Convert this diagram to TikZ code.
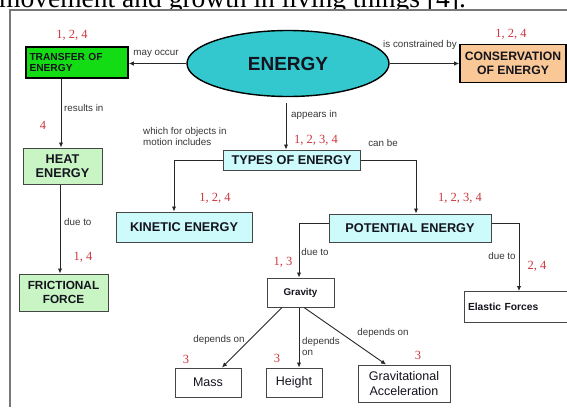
\documentclass[tikz,border=0pt]{standalone}
\usepackage{fontspec}
\setmainfont{Liberation Serif}
\setsansfont{Liberation Sans}
\usetikzlibrary{arrows.meta,shapes.geometric}
\definecolor{ecyan}{RGB}{50,200,205}
\definecolor{tgreen}{RGB}{20,220,20}
\definecolor{corange}{RGB}{250,200,150}
\definecolor{lgreen}{RGB}{200,245,195}
\definecolor{lcyan}{RGB}{205,250,250}
\definecolor{numred}{RGB}{205,55,65}
\definecolor{lblgray}{RGB}{55,55,55}
\definecolor{linegray}{RGB}{40,40,40}
\definecolor{boxgray}{RGB}{70,70,70}
\definecolor{framegray}{RGB}{120,120,120}
\definecolor{darktext}{RGB}{20,20,30}
\tikzset{
  lbl/.style={font=\sffamily\fontsize{9.8}{11}\selectfont, text=lblgray, inner sep=0},
  num/.style={font=\fontsize{12.5}{13}\selectfont, text=numred, inner sep=0},
  conn/.style={draw=linegray, line width=0.9pt},
  arr/.style={conn, -{Latex[length=5pt,width=4.5pt]}},
  cbox/.style={draw=boxgray, line width=1pt, rectangle, inner sep=0, align=center, text=darktext,
    font=\sffamily\bfseries\fontsize{12.7}{14.5}\selectfont},
  wbox/.style={draw=boxgray, line width=1pt, rectangle, inner sep=0, align=center, fill=white,
    font=\sffamily\fontsize{12.5}{14.5}\selectfont, text=darktext},
}
\begin{document}
\begin{tikzpicture}[x=1pt,y=-1pt]
\useasboundingbox (0,0) rectangle (567,407);
\begin{scope}
\clip (0,0) rectangle (567,407);
\node[anchor=base west, inner sep=0, font=\fontsize{27.5}{28}\selectfont] (toptext) at (-1,7) {movement and growth in living things [4].};
\fill[white] (10,10) rectangle (568,408);
\end{scope}
\draw[framegray, line width=1.2pt] (10,407) -- (10,10) -- (567,10);

% main nodes
\node[ellipse, draw=black, line width=1.4pt, fill=ecyan, minimum width=202, minimum height=66,
  inner sep=0, font=\sffamily\bfseries\fontsize{19}{20}\selectfont, text=darktext] (energy) at (288,63.5) {ENERGY};
\node[cbox, fill=tgreen, draw=black, line width=1.6pt, minimum width=102, minimum height=31,
  text width=95, align=left, font=\sffamily\bfseries\fontsize{10.2}{11.5}\selectfont] (transfer) at (77,62.5) {TRANSFER OF\\ENERGY};
\node[cbox, fill=corange, draw=black, line width=1.6pt, minimum width=106, minimum height=38,
  font=\sffamily\bfseries\fontsize{12.2}{13.8}\selectfont] (conserv) at (513,63.5) {CONSERVATION\\OF ENERGY};
\node[cbox, fill=lgreen, minimum width=79, minimum height=36] (heat) at (62.5,166) {HEAT\\ENERGY};
\node[cbox, fill=lgreen, minimum width=89, minimum height=37, font=\sffamily\bfseries\fontsize{11.8}{13.8}\selectfont] (fric) at (63.5,292.5) {FRICTIONAL\\FORCE};
\node[cbox, fill=lcyan, minimum width=137, minimum height=20] (types) at (291.5,160) {TYPES OF ENERGY};
\node[cbox, fill=lcyan, minimum width=136, minimum height=30] (kinetic) at (184,227) {KINETIC ENERGY};
\node[cbox, fill=lcyan, minimum width=162, minimum height=28] (potential) at (410,228) {POTENTIAL ENERGY};
\node[wbox, minimum width=67, minimum height=29, font=\sffamily\bfseries\fontsize{9.8}{11}\selectfont] (gravity) at (300.5,292.5) {Gravity};
\node[wbox, minimum width=103, minimum height=31, text width=95, align=left, font=\sffamily\bfseries\fontsize{10.3}{12}\selectfont] (elastic) at (515.5,307) {Elastic Forces};
\node[wbox, minimum width=66, minimum height=29] (mass) at (208,382.5) {Mass};
\node[wbox, minimum width=56, minimum height=29] (height) at (294,382.5) {Height};
\node[wbox, minimum width=92, minimum height=37] (gacc) at (404,383.5) {Gravitational\\Acceleration};

% connectors
\draw[arr] (energy.west) -- (energy.west -| transfer.east);
\draw[arr] (energy.east) -- (energy.east -| conserv.west);
\draw[arr] ([xshift=-16pt]transfer.south) -- ([xshift=-16pt]transfer.south |- heat.north);
\draw[arr] ([xshift=-2.5pt]heat.south) -- ([xshift=-2.5pt]heat.south |- fric.north);
\coordinate (apstart) at (286,103);
\draw[arr] (apstart) -- (apstart |- types.north);
\draw[arr] (types.west) -| ([xshift=-10pt]kinetic.north);
\draw[arr] (types.east) -| ([xshift=6pt]potential.north);
\draw[arr] ([yshift=5pt]potential.west) -| ([xshift=-1.5pt]gravity.north);
\draw[arr] ([yshift=5pt]potential.east) -| ([xshift=3.5pt]elastic.north);
\draw[arr] ([xshift=-18.5pt]gravity.south) -- ([xshift=14pt]mass.north);
\draw[arr] ([xshift=-1.5pt]gravity.south) -- ([xshift=-1.5pt]gravity.south |- height.north);
\draw[arr] ([xshift=3.5pt]gravity.south) -- ([xshift=-18pt]gacc.north);

% labels
\node[lbl] (l1) at (156,54) {may occur};
\node[lbl] (l2) at (420,45) {is constrained by};
\node[lbl, anchor=west] (l3) at (64,108) {results in};
\node[lbl, anchor=west] (l4) at (64,222) {due to};
\node[lbl, anchor=west] (l5) at (291,115) {appears in};
\node[lbl, anchor=north west, align=left] (l6) at (143,127) {which for objects in\\motion includes};
\node[lbl] (l7) at (383,143) {can be};
\node[lbl] (l8) at (315,252) {due to};
\node[lbl] (l9) at (502,256) {due to};
\node[lbl] (l10) at (219,340) {depends on};
\node[lbl, anchor=north west, align=left] (l11) at (302,337) {depends\\on};
\node[lbl] (l12) at (383,333) {depends on};

% numbers
\node[num] (n1) at (72,35) {1, 2, 4};
\node[num] (n2) at (511,34) {1, 2, 4};
\node[num] (n3) at (43,125) {4};
\node[num] (n4) at (83,257) {1, 4};
\node[num] (n5) at (316,140) {1, 2, 3, 4};
\node[num] (n6) at (215,198) {1, 2, 4};
\node[num] (n7) at (460,198) {1, 2, 3, 4};
\node[num] (n8) at (283,262) {1, 3};
\node[num] (n9) at (537,266) {2, 4};
\node[num] (n10) at (186,359) {3};
\node[num] (n11) at (277,358) {3};
\node[num] (n12) at (418,355) {3};
\end{tikzpicture}
\end{document}
